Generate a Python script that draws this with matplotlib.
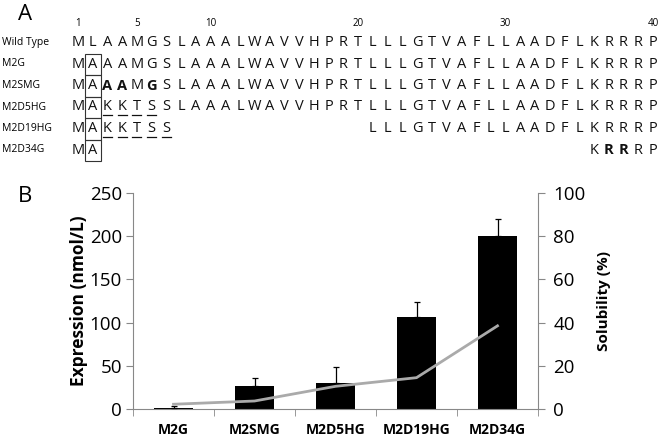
import numpy as np
import matplotlib.pyplot as plt
from matplotlib.patches import Rectangle

plt.rcParams['font.family'] = ['Open Sans', 'DejaVu Sans']

# panel A: sequences
wild = "MLAAMGSLAAALWAVVHPRTLLLGTVAFLLAADFLKRRRP"
row_names = ["Wild Type", "M2G", "M2SMG", "M2D5HG", "M2D19HG", "M2D34G"]
# blanks = deleted residues
m2g = "MA" + wild[2:]
m2smg = "MA" + wild[2:]
m2d5hg = "MAKKTS" + wild[6:]
m2d19hg = "MAKKTSS" + " " * 13 + wild[20:]
m2d34g = "MA" + " " * 33 + wild[35:]
seqs = [wild, m2g, m2smg, m2d5hg, m2d19hg, m2d34g]
bold_pos = {2: [3, 4, 6], 5: [37, 38]}          # 1-based residue numbers
under_pos = {3: [3, 4, 5, 6], 4: [3, 4, 5, 6, 7]}
num_marks = [1, 5, 10, 20, 30, 40]

# panel B data
constructs = ["M2G", "M2SMG", "M2D5HG", "M2D19HG", "M2D34G"]
expression = [1, 27, 30, 107, 200]
expr_err = [3, 9, 19, 17, 20]
solubility = [2.2, 3.7, 10.5, 14.5, 38.5]

fig = plt.figure(figsize=(6.62, 4.38), dpi=100)

axA = fig.add_axes([0, 0, 1, 1])
axA.set_xlim(0, 662)
axA.set_ylim(438, 0)
axA.axis('off')

x1 = 78.0
step = (653.0 - 78.0) / 39
row_y = [42, 64, 85.5, 107, 128.5, 150]

axA.text(18, 15, "A", fontsize=16, va='center', ha='left')
for n in num_marks:
    axA.text(x1 + (n - 1) * step, 23, str(n), fontsize=7, ha='center', va='center')

for r, (name, s) in enumerate(zip(row_names, seqs)):
    axA.text(2, row_y[r], name, fontsize=7.5, ha='left', va='center')
    for i, ch in enumerate(s):
        if ch == " ":
            continue
        pos = i + 1
        w = 'bold' if pos in bold_pos.get(r, []) else 'normal'
        x = x1 + i * step
        axA.text(x, row_y[r], ch, fontsize=10.5, ha='center', va='center', fontweight=w, color='#111111')
        if pos in under_pos.get(r, []):
            axA.plot([x - 4.5, x + 4.5], [row_y[r] + 8, row_y[r] + 8], color='#111111', lw=0.9)

# boxes round position 2
for r in range(1, 6):
    axA.add_patch(Rectangle((x1 + step - 8, row_y[r] - 10.5), 16, 21.5, fill=False, ec='#333333', lw=0.8))

axA.text(18, 196, "B", fontsize=16, va='center', ha='left')

# panel B chart
ax = fig.add_axes([133 / 662, 1 - 409 / 438, (538 - 133) / 662, (409 - 193) / 438])
xs = np.arange(len(constructs))
ax.bar(xs, expression, width=0.47, color='black', zorder=2)
ax.errorbar(xs, expression, yerr=[np.zeros(len(expr_err)), expr_err], fmt='none',
            ecolor='black', elinewidth=0.9, capsize=2.5, capthick=0.9, zorder=3)
ax.set_xlim(-0.5, len(constructs) - 0.5)
ax.set_ylim(0, 250)
ax.set_yticks([0, 50, 100, 150, 200, 250])
ax.set_xticks(xs)
ax.set_xticklabels(constructs, fontsize=10, fontweight='bold')
ax.set_xticks(np.arange(-0.5, len(constructs), 1), minor=True)
ax.tick_params(axis='x', which='major', length=0, pad=10)
ax.tick_params(axis='x', which='minor', length=5, color='#888888', direction='out')
ax.tick_params(axis='y', labelsize=13.5, length=5, color='#888888', pad=3)
ax.set_ylabel("Expression (nmol/L)", fontsize=12.5, fontweight='bold', labelpad=1)
for sp in ['top', 'right']:
    ax.spines[sp].set_visible(False)
for sp in ['left', 'bottom']:
    ax.spines[sp].set_color('#888888')

ax2 = ax.twinx()
ax2.plot(xs, solubility, color='#aaaaaa', lw=2, zorder=4)
ax2.set_ylim(0, 100)
ax2.set_yticks([0, 20, 40, 60, 80, 100])
ax2.tick_params(axis='y', labelsize=13.5, length=5, color='#888888', pad=6)
ax2.set_ylabel("Solubility (%)", fontsize=11, fontweight='bold', labelpad=8)
ax2.spines['top'].set_visible(False)
ax2.spines['left'].set_visible(False)
ax2.spines['bottom'].set_visible(False)
ax2.spines['right'].set_color('#888888')

fig.savefig('out.png', dpi=100)
